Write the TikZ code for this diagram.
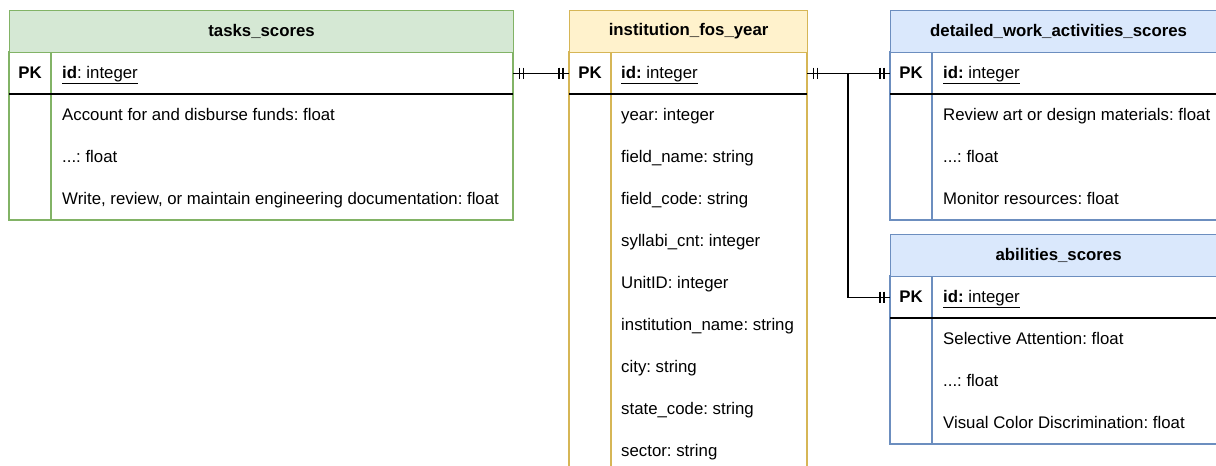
\documentclass[tikz,border=0pt]{standalone}
\usepackage{fontspec}
\setmainfont{Liberation Sans}
\usetikzlibrary{calc}
\frenchspacing
\definecolor{gfill}{HTML}{D5E8D4}\definecolor{gline}{HTML}{82B366}
\definecolor{yfill}{HTML}{FFF2CC}\definecolor{yline}{HTML}{D6B656}
\definecolor{bfill}{HTML}{DAE8FC}\definecolor{bline}{HTML}{6C8EBF}
\tikzset{
  txt/.style={font=\fontsize{16.8}{20}\selectfont, inner sep=0pt, text=black},
  hdr/.style={txt, font=\fontsize{16.8}{20}\selectfont\bfseries, rectangle, line width=1.2pt, minimum height=42, anchor=north west},
  rowbox/.style={rectangle, inner sep=0pt, minimum height=42, anchor=north west},
  pk/.style={txt, font=\fontsize{16.8}{20}\selectfont\bfseries, text height=12pt, text depth=3.5pt, yshift=-1.5pt},
  fld/.style={txt, anchor=west, text height=12pt, text depth=3.5pt, yshift=-1.5pt},
  frame/.style={line width=1.2pt, fill=white},
  sepline/.style={line width=1.2pt, black},
  conn/.style={line width=1.3pt, black},
}
\begin{document}
\frenchspacing
\begin{tikzpicture}[x=1pt,y=-1pt]
\path[use as bounding box, clip] (0,0) rectangle (1216,466);
\fill[white] (0,0) rectangle (1216,466);

% ---------- tasks_scores ----------
\draw[frame, draw=gline] (9,52) rectangle (513,220);
\draw[gline, line width=1.2pt] (51,52) -- (51,220);
\draw[sepline] (9,94) -- (513,94);
\node[hdr, fill=gfill, draw=gline, minimum width=504] (tH) at (9,10) {tasks\_scores};
\node[rowbox, minimum width=504] (tRow) at (9,52) {};
\node[pk] (tPK) at (30,73) {PK};
\node[fld] (tId) at (62,73) {\underline{\textbf{id}: integer}};
\node[fld] (t1) at (62,115) {Account for and disburse funds: float};
\node[fld] (t2) at (62,157) {...: float};
\node[fld] (t3) at (62,199) {Write, review, or maintain engineering documentation: float};

% ---------- institution_fos_year ----------
\draw[frame, draw=yline] (569,52) rectangle (807,472);
\draw[yline, line width=1.2pt] (611,52) -- (611,472);
\draw[sepline] (569,94) -- (807,94);
\node[hdr, fill=yfill, draw=yline, minimum width=238] (iH) at (569,10) {institution\_fos\_year};
\node[rowbox, minimum width=238] (iRow) at (569,52) {};
\node[pk] (iPK) at (590,73) {PK};
\node[fld] (iId) at (621,73) {\underline{\textbf{id:} integer}};
\node[fld] (i1) at (621,115) {year: integer};
\node[fld] (i2) at (621,157) {field\_name: string};
\node[fld] (i3) at (621,199) {field\_code: string};
\node[fld] (i4) at (621,241) {syllabi\_cnt: integer};
\node[fld] (i5) at (621,283) {UnitID: integer};
\node[fld] (i6) at (621,325) {institution\_name: string};
\node[fld] (i7) at (621,367) {city: string};
\node[fld] (i8) at (621,409) {state\_code: string};
\node[fld] (i9) at (621,451) {sector: string};

% ---------- detailed_work_activities_scores ----------
\draw[frame, draw=bline] (890,52) rectangle (1226,220);
\draw[bline, line width=1.2pt] (932,52) -- (932,220);
\draw[sepline] (890,94) -- (1226,94);
\node[hdr, fill=bfill, draw=bline, minimum width=336] (dH) at (890,10) {detailed\_work\_activities\_scores};
\node[rowbox, minimum width=336] (dRow) at (890,52) {};
\node[pk] (dPK) at (911,73) {PK};
\node[fld] (dId) at (943,73) {\underline{\textbf{id:} integer}};
\node[fld] (d1) at (943,115) {Review art or design materials: float};
\node[fld] (d2) at (943,157) {...: float};
\node[fld] (d3) at (943,199) {Monitor resources: float};

% ---------- abilities_scores ----------
\draw[frame, draw=bline] (890,276) rectangle (1226,444);
\draw[bline, line width=1.2pt] (932,276) -- (932,444);
\draw[sepline] (890,318) -- (1226,318);
\node[hdr, fill=bfill, draw=bline, minimum width=336] (aH) at (890,234) {abilities\_scores};
\node[rowbox, minimum width=336] (aRow) at (890,276) {};
\node[pk] (aPK) at (911,297) {PK};
\node[fld] (aId) at (943,297) {\underline{\textbf{id:} integer}};
\node[fld] (a1) at (943,339) {Selective Attention: float};
\node[fld] (a2) at (943,381) {...: float};
\node[fld] (a3) at (943,423) {Visual Color Discrimination: float};

% ---------- connectors ----------
\coordinate (elbow) at (848,73);
\draw[conn] (tRow.east) -- (iRow.west);
\draw[conn] (iRow.east) -- (dRow.west);
\draw[conn] (elbow) |- (aRow.west);
% mandatory-one bars
\foreach \p/\s in {tRow.east/1, iRow.west/-1, iRow.east/1, dRow.west/-1, aRow.west/-1}{
  \draw[conn] ($(\p)+(\s*6,-5.5)$) -- ++(0,11);
  \draw[conn] ($(\p)+(\s*10,-5.5)$) -- ++(0,11);
}
\end{tikzpicture}
\end{document}
